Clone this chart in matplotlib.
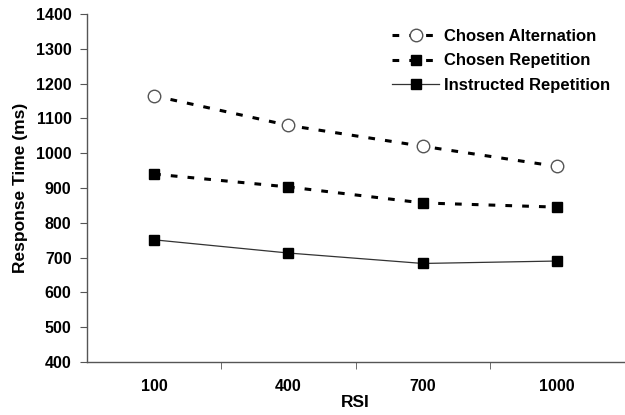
import matplotlib
matplotlib.use("Agg")
import matplotlib.pyplot as plt
from matplotlib.ticker import FixedLocator, NullFormatter

plt.rcParams['font.family'] = ['Liberation Sans', 'DejaVu Sans']

rsi = ['100', '400', '700', '1000']
chosen_alt = [1165, 1080, 1020, 962]
chosen_rep = [940, 903, 857, 845]
instructed_rep = [751, 713, 683, 690]
yticks = [400, 500, 600, 700, 800, 900, 1000, 1100, 1200, 1300, 1400]

fig = plt.figure(figsize=(6.25, 4.15), dpi=100)
ax = fig.add_axes([0.139, 0.128, 0.86, 0.838])
x = list(range(len(rsi)))

ax.plot(x, chosen_alt, linestyle=(0, (2.2, 3.3)), color='black', linewidth=2.2,
        marker='o', markersize=9, markerfacecolor='white', markeredgecolor='#555555',
        markeredgewidth=1, label='Chosen Alternation')
ax.plot(x, chosen_rep, linestyle=(0, (2.2, 3.3)), color='black', linewidth=2.2,
        marker='s', markersize=7, markerfacecolor='black', markeredgecolor='black',
        label='Chosen Repetition')
ax.plot(x, instructed_rep, linestyle='-', color='#333333', linewidth=0.9,
        marker='s', markersize=7, markerfacecolor='black', markeredgecolor='black',
        label='Instructed Repetition')

ax.set_xlim(-0.5, len(rsi) - 0.5)
ax.set_ylim(400, 1400)
ax.set_yticks(yticks)
ax.set_yticklabels([str(v) for v in yticks], fontsize=11.5, fontweight='bold')
ax.set_xticks(x)
ax.set_xticklabels(rsi, fontsize=11.5, fontweight='bold')
ax.tick_params(axis='x', which='major', length=0, pad=12)
ax.xaxis.set_minor_locator(FixedLocator([0.5, 1.5, 2.5]))
ax.xaxis.set_minor_formatter(NullFormatter())
ax.tick_params(axis='x', which='minor', length=5, direction='out', color='#555555')
ax.tick_params(axis='y', length=5, direction='out', color='#555555', pad=6)

for s in ['top', 'right']:
    ax.spines[s].set_visible(False)
for s in ['left', 'bottom']:
    ax.spines[s].set_color('#555555')
    ax.spines[s].set_linewidth(1)

ax.set_xlabel('RSI', fontsize=12.5, fontweight='bold', labelpad=1)
ax.set_ylabel('Response Time (ms)', fontsize=12.5, fontweight='bold', labelpad=6)

leg = ax.legend(loc='upper right', bbox_to_anchor=(0.995, 0.991), frameon=False,
                handlelength=2.8, handletextpad=0.3, borderaxespad=0.3,
                labelspacing=0.57, prop={'weight': 'bold', 'size': 12})

fig.savefig('out.png', dpi=100)
